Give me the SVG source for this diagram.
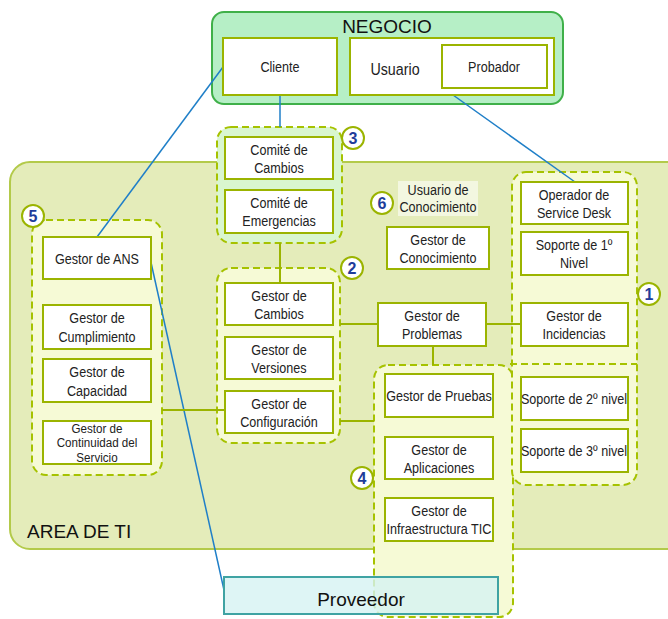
<svg xmlns="http://www.w3.org/2000/svg" width="668" height="619" viewBox="0 0 668 619">
  <style>
    .t { font-family: "Liberation Sans", Arial, sans-serif; font-size: 15px; fill: #222; text-anchor: middle; }
    .tight { font-size: 13.5px; }
    .big { font-family: "Liberation Sans", Arial, sans-serif; font-size: 19px; fill: #111; }
    .box { fill: #ffffff; stroke: #9bb400; stroke-width: 2; }
    .grp { fill: #f6fad6; stroke: #a6c200; stroke-width: 2; stroke-dasharray: 7 4; }
    .num { fill: #ffffff; stroke: #9bb400; stroke-width: 2; }
    .numt { font-family: "Liberation Sans", Arial, sans-serif; font-size: 16px; font-weight: bold; fill: #1f3d9a; text-anchor: middle; }
    .blue { stroke: #1f7fc8; stroke-width: 1.5; fill: none; }
    .olive { stroke: #9bb400; stroke-width: 2; fill: none; }
  </style>

  <!-- IT area background -->
  <g id="area-ti">
    <rect x="10" y="162" width="680" height="387" rx="20" fill="#e4ecba" stroke="#b3ca4a" stroke-width="2"/>
    <text class="big" x="27" y="538">AREA DE TI</text>
  </g>

  <!-- Business area -->
  <g id="negocio">
    <rect x="212" y="12" width="351" height="92" rx="12" fill="#b6efc6" stroke="#3fb049" stroke-width="2"/>
    <text class="big" x="387" y="33" text-anchor="middle">NEGOCIO</text>
  </g>

  <!-- dashed process groups -->
  <g id="grupo-5"><rect class="grp" x="32" y="220" width="130" height="255" rx="14"/></g>
  <g id="grupo-3"><rect class="grp" x="217" y="127" width="125" height="116" rx="14" style="fill:#d9f6cf"/></g>
  <g id="grupo-2"><rect class="grp" x="217" y="268" width="123" height="175" rx="14"/></g>
  <g id="grupo-4"><rect class="grp" x="374" y="365" width="139" height="252" rx="14"/></g>
  <g id="grupo-1">
    <rect class="grp" x="512" y="172" width="125" height="313" rx="14"/>
    <line x1="510" y1="364" x2="637" y2="364" stroke="#a6c200" stroke-width="2" stroke-dasharray="7 4"/>
  </g>

  <!-- connectors -->
  <g id="connectors">
    <line class="blue" x1="223" y1="67" x2="97" y2="237"/>
    <line class="blue" x1="280" y1="95" x2="280" y2="127"/>
    <line class="blue" x1="453" y1="95" x2="575" y2="182"/>
    <line class="blue" x1="150" y1="258" x2="224" y2="590"/>
    <line class="olive" x1="280" y1="243" x2="280" y2="283"/>
    <line class="olive" x1="340" y1="324" x2="378" y2="324"/>
    <line class="olive" x1="486" y1="324" x2="521" y2="324"/>
    <line class="olive" x1="433" y1="346" x2="433" y2="365"/>
    <line class="olive" x1="162" y1="410" x2="225" y2="410"/>
    <line class="olive" x1="340" y1="421" x2="374" y2="421"/>
  </g>

  <!-- business roles -->
  <g id="cliente">
    <rect class="box" x="223" y="38" width="114" height="57"/>
    <g transform="matrix(.84 0 0 1 44.8 0)"><text class="t" x="280" y="72">Cliente</text></g>
  </g>
  <g id="usuario">
    <rect class="box" x="350" y="38" width="204" height="57"/>
    <g transform="matrix(.84 0 0 1 63.2 0)"><text class="t" x="395" y="75" style="font-size:17px">Usuario</text></g>
  </g>
  <g id="probador">
    <rect class="box" x="442" y="45" width="105" height="43"/>
    <g transform="matrix(.84 0 0 1 79.04 0)"><text class="t" x="494" y="72">Probador</text></g>
  </g>

  <!-- group 3 -->
  <g id="comite-cambios">
    <rect class="box" x="225" y="137" width="108" height="42"/>
    <g transform="matrix(.84 0 0 1 44.64 0)">
      <text class="t" x="279" y="155">Comité de</text>
      <text class="t" x="279" y="173">Cambios</text>
    </g>
  </g>
  <g id="comite-emergencias">
    <rect class="box" x="225" y="190" width="108" height="43"/>
    <g transform="matrix(.84 0 0 1 44.64 0)">
      <text class="t" x="279" y="208">Comité de</text>
      <text class="t" x="279" y="226">Emergencias</text>
    </g>
  </g>

  <!-- group 5 -->
  <g id="gestor-ans">
    <rect class="box" x="43" y="237" width="108" height="42"/>
    <g transform="matrix(.84 0 0 1 15.52 0)"><text class="t" x="97" y="264">Gestor de ANS</text></g>
  </g>
  <g id="gestor-cumplimiento">
    <rect class="box" x="43" y="305" width="108" height="44"/>
    <g transform="matrix(.84 0 0 1 15.52 0)">
      <text class="t" x="97" y="323">Gestor de</text>
      <text class="t" x="97" y="342">Cumplimiento</text>
    </g>
  </g>
  <g id="gestor-capacidad">
    <rect class="box" x="43" y="359" width="108" height="43"/>
    <g transform="matrix(.84 0 0 1 15.52 0)">
      <text class="t" x="97" y="377">Gestor de</text>
      <text class="t" x="97" y="396">Capacidad</text>
    </g>
  </g>
  <g id="gestor-continuidad">
    <rect class="box" x="43" y="421" width="108" height="43"/>
    <g transform="matrix(.86 0 0 1 13.58 0)">
      <text class="t tight" x="97" y="433">Gestor de</text>
      <text class="t tight" x="97" y="447.5">Continuidad del</text>
      <text class="t tight" x="97" y="462">Servicio</text>
    </g>
  </g>

  <!-- group 2 -->
  <g id="gestor-cambios">
    <rect class="box" x="225" y="283" width="108" height="42"/>
    <g transform="matrix(.84 0 0 1 44.64 0)">
      <text class="t" x="279" y="301">Gestor de</text>
      <text class="t" x="279" y="319">Cambios</text>
    </g>
  </g>
  <g id="gestor-versiones">
    <rect class="box" x="225" y="337" width="108" height="42"/>
    <g transform="matrix(.84 0 0 1 44.64 0)">
      <text class="t" x="279" y="355">Gestor de</text>
      <text class="t" x="279" y="373">Versiones</text>
    </g>
  </g>
  <g id="gestor-configuracion">
    <rect class="box" x="225" y="391" width="108" height="42"/>
    <g transform="matrix(.84 0 0 1 44.64 0)">
      <text class="t" x="279" y="409">Gestor de</text>
      <text class="t" x="279" y="427">Configuración</text>
    </g>
  </g>

  <!-- group 6 -->
  <g id="usuario-conocimiento">
    <rect x="398" y="181" width="80" height="35" fill="#f3f7e0"/>
    <g transform="matrix(.84 0 0 1 70.08 0)">
      <text class="t" x="438" y="195">Usuario de</text>
      <text class="t" x="438" y="212">Conocimiento</text>
    </g>
  </g>
  <g id="gestor-conocimiento">
    <rect class="box" x="387" y="227" width="102" height="42"/>
    <g transform="matrix(.84 0 0 1 70.08 0)">
      <text class="t" x="438" y="245">Gestor de</text>
      <text class="t" x="438" y="263">Conocimiento</text>
    </g>
  </g>

  <g id="gestor-problemas">
    <rect class="box" x="378" y="303" width="108" height="43"/>
    <g transform="matrix(.84 0 0 1 69.12 0)">
      <text class="t" x="432" y="321">Gestor de</text>
      <text class="t" x="432" y="339">Problemas</text>
    </g>
  </g>

  <!-- group 4 -->
  <g id="gestor-pruebas">
    <rect class="box" x="385" y="374" width="108" height="43"/>
    <g transform="matrix(.84 0 0 1 70.24 0)"><text class="t" x="439" y="401">Gestor de Pruebas</text></g>
  </g>
  <g id="gestor-aplicaciones">
    <rect class="box" x="385" y="437" width="108" height="42"/>
    <g transform="matrix(.84 0 0 1 70.24 0)">
      <text class="t" x="439" y="455">Gestor de</text>
      <text class="t" x="439" y="473">Aplicaciones</text>
    </g>
  </g>
  <g id="gestor-infraestructura">
    <rect class="box" x="385" y="498" width="108" height="43"/>
    <g transform="matrix(.84 0 0 1 70.24 0)">
      <text class="t" x="439" y="516">Gestor de</text>
      <text class="t" x="439" y="534">Infraestructura  TIC</text>
    </g>
  </g>

  <!-- group 1 -->
  <g id="operador-service-desk">
    <rect class="box" x="521" y="182" width="107" height="42"/>
    <g transform="matrix(.84 0 0 1 91.84 0)">
      <text class="t" x="574" y="200">Operador de</text>
      <text class="t" x="574" y="218">Service  Desk</text>
    </g>
  </g>
  <g id="soporte-1">
    <rect class="box" x="521" y="232" width="107" height="43"/>
    <g transform="matrix(.84 0 0 1 91.84 0)">
      <text class="t" x="574" y="250">Soporte de 1º</text>
      <text class="t" x="574" y="268">Nivel</text>
    </g>
  </g>
  <g id="gestor-incidencias">
    <rect class="box" x="521" y="303" width="107" height="43"/>
    <g transform="matrix(.84 0 0 1 91.84 0)">
      <text class="t" x="574" y="321">Gestor de</text>
      <text class="t" x="574" y="339">Incidencias</text>
    </g>
  </g>
  <g id="soporte-2">
    <rect class="box" x="521" y="377" width="107" height="43"/>
    <g transform="matrix(.84 0 0 1 91.84 0)"><text class="t" x="574" y="404">Soporte de 2º nivel</text></g>
  </g>
  <g id="soporte-3">
    <rect class="box" x="521" y="429" width="107" height="43"/>
    <g transform="matrix(.84 0 0 1 91.84 0)"><text class="t" x="574" y="456">Soporte de 3º nivel</text></g>
  </g>

  <!-- supplier -->
  <g id="proveedor">
    <rect x="224" y="577" width="274" height="37" fill="#d6f3f3" fill-opacity="0.8" stroke="#3fa3a3" stroke-width="2"/>
    <text class="big" x="361" y="606" text-anchor="middle">Proveedor</text>
  </g>

  <!-- group numbers -->
  <g id="badges">
    <circle class="num" cx="33" cy="216" r="11"/><text class="numt" x="33" y="222">5</text>
    <circle class="num" cx="353" cy="138" r="11"/><text class="numt" x="353" y="144">3</text>
    <circle class="num" cx="352" cy="268" r="11"/><text class="numt" x="352" y="274">2</text>
    <circle class="num" cx="382" cy="203" r="11"/><text class="numt" x="382" y="209">6</text>
    <circle class="num" cx="362" cy="478" r="11"/><text class="numt" x="362" y="484">4</text>
    <circle class="num" cx="649" cy="294" r="11"/><text class="numt" x="649" y="300">1</text>
  </g>
</svg>
